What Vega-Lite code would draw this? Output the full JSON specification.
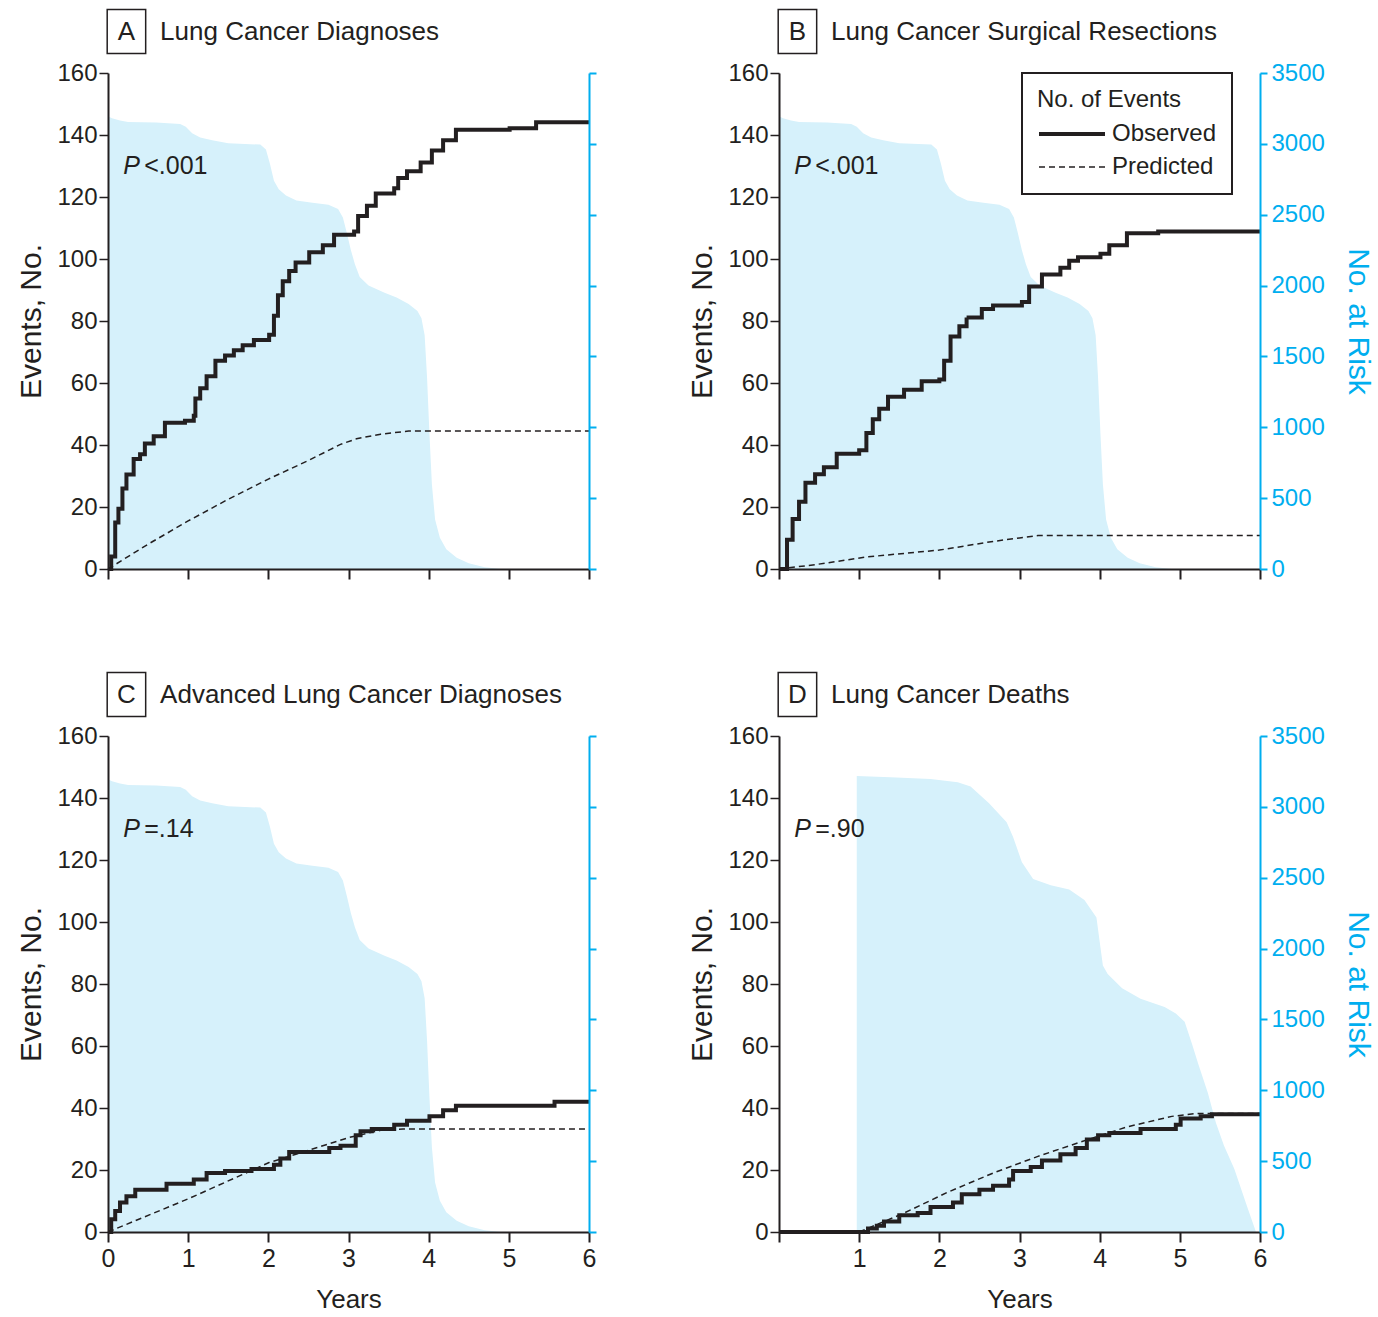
{
  "$schema": "https://vega.github.io/schema/vega-lite/v6.json",
  "padding": {"left": 16, "top": 8, "right": 5, "bottom": 5},
  "background": "white",
  "config": {
    "font": "Liberation Sans",
    "view": {"stroke": null},
    "axis": {"grid": false, "zindex": 1, "labelFlush": false, "labelFont": "Liberation Sans", "titleFont": "Liberation Sans", "titleFontWeight": "normal"},
    "text": {"font": "Liberation Sans", "color": "#231f20"}
  },
  "datasets": {
    "one": [{}],
    "risk": [
      {"p": "ABC", "year": 0, "atrisk": 3195}, {"p": "ABC", "year": 0.05, "atrisk": 3180}, {"p": "ABC", "year": 0.15, "atrisk": 3165},
      {"p": "ABC", "year": 0.25, "atrisk": 3155}, {"p": "ABC", "year": 0.6, "atrisk": 3150}, {"p": "ABC", "year": 0.9, "atrisk": 3140},
      {"p": "ABC", "year": 0.97, "atrisk": 3120}, {"p": "ABC", "year": 1.05, "atrisk": 3075}, {"p": "ABC", "year": 1.15, "atrisk": 3045},
      {"p": "ABC", "year": 1.3, "atrisk": 3025}, {"p": "ABC", "year": 1.5, "atrisk": 3005}, {"p": "ABC", "year": 1.9, "atrisk": 2995},
      {"p": "ABC", "year": 1.97, "atrisk": 2960}, {"p": "ABC", "year": 2.02, "atrisk": 2860}, {"p": "ABC", "year": 2.07, "atrisk": 2740},
      {"p": "ABC", "year": 2.13, "atrisk": 2680}, {"p": "ABC", "year": 2.22, "atrisk": 2635}, {"p": "ABC", "year": 2.35, "atrisk": 2600},
      {"p": "ABC", "year": 2.55, "atrisk": 2585}, {"p": "ABC", "year": 2.75, "atrisk": 2570}, {"p": "ABC", "year": 2.87, "atrisk": 2540},
      {"p": "ABC", "year": 2.93, "atrisk": 2480}, {"p": "ABC", "year": 2.98, "atrisk": 2370}, {"p": "ABC", "year": 3.03, "atrisk": 2250},
      {"p": "ABC", "year": 3.08, "atrisk": 2150}, {"p": "ABC", "year": 3.14, "atrisk": 2060}, {"p": "ABC", "year": 3.25, "atrisk": 2000},
      {"p": "ABC", "year": 3.45, "atrisk": 1950}, {"p": "ABC", "year": 3.6, "atrisk": 1915}, {"p": "ABC", "year": 3.75, "atrisk": 1870},
      {"p": "ABC", "year": 3.86, "atrisk": 1820}, {"p": "ABC", "year": 3.91, "atrisk": 1770}, {"p": "ABC", "year": 3.95, "atrisk": 1650},
      {"p": "ABC", "year": 3.98, "atrisk": 1350}, {"p": "ABC", "year": 4.01, "atrisk": 950}, {"p": "ABC", "year": 4.04, "atrisk": 600},
      {"p": "ABC", "year": 4.08, "atrisk": 350}, {"p": "ABC", "year": 4.14, "atrisk": 220}, {"p": "ABC", "year": 4.22, "atrisk": 140},
      {"p": "ABC", "year": 4.35, "atrisk": 80}, {"p": "ABC", "year": 4.5, "atrisk": 40}, {"p": "ABC", "year": 4.7, "atrisk": 12},
      {"p": "ABC", "year": 4.9, "atrisk": 0},
      {"p": "D", "year": 0.97, "atrisk": 3218}, {"p": "D", "year": 1.39, "atrisk": 3209}, {"p": "D", "year": 1.89, "atrisk": 3197},
      {"p": "D", "year": 2.23, "atrisk": 3174}, {"p": "D", "year": 2.39, "atrisk": 3144}, {"p": "D", "year": 2.62, "atrisk": 3025},
      {"p": "D", "year": 2.84, "atrisk": 2892}, {"p": "D", "year": 2.92, "atrisk": 2788}, {"p": "D", "year": 3.03, "atrisk": 2610},
      {"p": "D", "year": 3.17, "atrisk": 2491}, {"p": "D", "year": 3.39, "atrisk": 2447}, {"p": "D", "year": 3.62, "atrisk": 2417},
      {"p": "D", "year": 3.81, "atrisk": 2343}, {"p": "D", "year": 3.96, "atrisk": 2220}, {"p": "D", "year": 4.0, "atrisk": 2050},
      {"p": "D", "year": 4.04, "atrisk": 1880}, {"p": "D", "year": 4.1, "atrisk": 1820}, {"p": "D", "year": 4.28, "atrisk": 1720},
      {"p": "D", "year": 4.51, "atrisk": 1646}, {"p": "D", "year": 4.81, "atrisk": 1587}, {"p": "D", "year": 4.95, "atrisk": 1542},
      {"p": "D", "year": 5.06, "atrisk": 1483}, {"p": "D", "year": 5.15, "atrisk": 1330}, {"p": "D", "year": 5.23, "atrisk": 1186},
      {"p": "D", "year": 5.35, "atrisk": 980}, {"p": "D", "year": 5.45, "atrisk": 771}, {"p": "D", "year": 5.55, "atrisk": 610},
      {"p": "D", "year": 5.68, "atrisk": 445}, {"p": "D", "year": 5.84, "atrisk": 178}, {"p": "D", "year": 5.95, "atrisk": 0}
    ],
    "events": [
      {"p": "A", "s": "Observed", "year": 0, "n": 0}, {"p": "A", "s": "Observed", "year": 0.04, "n": 4}, {"p": "A", "s": "Observed", "year": 0.09, "n": 15},
      {"p": "A", "s": "Observed", "year": 0.13, "n": 19.4}, {"p": "A", "s": "Observed", "year": 0.18, "n": 26}, {"p": "A", "s": "Observed", "year": 0.23, "n": 30.5},
      {"p": "A", "s": "Observed", "year": 0.32, "n": 35.5}, {"p": "A", "s": "Observed", "year": 0.4, "n": 37}, {"p": "A", "s": "Observed", "year": 0.46, "n": 40.5},
      {"p": "A", "s": "Observed", "year": 0.57, "n": 42.8}, {"p": "A", "s": "Observed", "year": 0.71, "n": 47.2}, {"p": "A", "s": "Observed", "year": 0.96, "n": 47.8},
      {"p": "A", "s": "Observed", "year": 1.07, "n": 49.4}, {"p": "A", "s": "Observed", "year": 1.09, "n": 55}, {"p": "A", "s": "Observed", "year": 1.15, "n": 58.3},
      {"p": "A", "s": "Observed", "year": 1.23, "n": 62.2}, {"p": "A", "s": "Observed", "year": 1.34, "n": 67.2}, {"p": "A", "s": "Observed", "year": 1.46, "n": 68.9},
      {"p": "A", "s": "Observed", "year": 1.57, "n": 70.6}, {"p": "A", "s": "Observed", "year": 1.68, "n": 72.2}, {"p": "A", "s": "Observed", "year": 1.82, "n": 73.9},
      {"p": "A", "s": "Observed", "year": 2.01, "n": 75.6}, {"p": "A", "s": "Observed", "year": 2.07, "n": 81.7}, {"p": "A", "s": "Observed", "year": 2.12, "n": 88.3},
      {"p": "A", "s": "Observed", "year": 2.18, "n": 92.8}, {"p": "A", "s": "Observed", "year": 2.26, "n": 96.1}, {"p": "A", "s": "Observed", "year": 2.34, "n": 98.9},
      {"p": "A", "s": "Observed", "year": 2.51, "n": 102.2}, {"p": "A", "s": "Observed", "year": 2.68, "n": 104.4}, {"p": "A", "s": "Observed", "year": 2.82, "n": 107.8},
      {"p": "A", "s": "Observed", "year": 3.07, "n": 108.9}, {"p": "A", "s": "Observed", "year": 3.12, "n": 113.9}, {"p": "A", "s": "Observed", "year": 3.23, "n": 117.2},
      {"p": "A", "s": "Observed", "year": 3.34, "n": 121.1}, {"p": "A", "s": "Observed", "year": 3.57, "n": 122.8}, {"p": "A", "s": "Observed", "year": 3.62, "n": 126.1},
      {"p": "A", "s": "Observed", "year": 3.73, "n": 128.3}, {"p": "A", "s": "Observed", "year": 3.9, "n": 131.1}, {"p": "A", "s": "Observed", "year": 4.04, "n": 135},
      {"p": "A", "s": "Observed", "year": 4.18, "n": 138.3}, {"p": "A", "s": "Observed", "year": 4.34, "n": 141.7}, {"p": "A", "s": "Observed", "year": 5.01, "n": 142.2},
      {"p": "A", "s": "Observed", "year": 5.34, "n": 144.1}, {"p": "A", "s": "Observed", "year": 6, "n": 144.1},
      {"p": "A", "s": "Predicted", "year": 0, "n": 0}, {"p": "A", "s": "Predicted", "year": 0.5, "n": 8}, {"p": "A", "s": "Predicted", "year": 1, "n": 15.5},
      {"p": "A", "s": "Predicted", "year": 1.5, "n": 22.5}, {"p": "A", "s": "Predicted", "year": 2, "n": 29}, {"p": "A", "s": "Predicted", "year": 2.5, "n": 35},
      {"p": "A", "s": "Predicted", "year": 2.9, "n": 40.2}, {"p": "A", "s": "Predicted", "year": 3.1, "n": 42}, {"p": "A", "s": "Predicted", "year": 3.4, "n": 43.5},
      {"p": "A", "s": "Predicted", "year": 3.75, "n": 44.5}, {"p": "A", "s": "Predicted", "year": 6, "n": 44.5},
      {"p": "B", "s": "Observed", "year": 0, "n": 0}, {"p": "B", "s": "Observed", "year": 0.07, "n": 0}, {"p": "B", "s": "Observed", "year": 0.1, "n": 9.4},
      {"p": "B", "s": "Observed", "year": 0.17, "n": 16.1}, {"p": "B", "s": "Observed", "year": 0.25, "n": 21.7}, {"p": "B", "s": "Observed", "year": 0.33, "n": 27.8},
      {"p": "B", "s": "Observed", "year": 0.45, "n": 30.6}, {"p": "B", "s": "Observed", "year": 0.56, "n": 32.8}, {"p": "B", "s": "Observed", "year": 0.72, "n": 37.2},
      {"p": "B", "s": "Observed", "year": 1.0, "n": 38.3}, {"p": "B", "s": "Observed", "year": 1.09, "n": 43.9}, {"p": "B", "s": "Observed", "year": 1.17, "n": 48.3},
      {"p": "B", "s": "Observed", "year": 1.25, "n": 51.7}, {"p": "B", "s": "Observed", "year": 1.36, "n": 55.6}, {"p": "B", "s": "Observed", "year": 1.56, "n": 57.8},
      {"p": "B", "s": "Observed", "year": 1.78, "n": 60.6}, {"p": "B", "s": "Observed", "year": 2.0, "n": 61.1}, {"p": "B", "s": "Observed", "year": 2.06, "n": 67.2},
      {"p": "B", "s": "Observed", "year": 2.14, "n": 75}, {"p": "B", "s": "Observed", "year": 2.25, "n": 78.3}, {"p": "B", "s": "Observed", "year": 2.34, "n": 81.1},
      {"p": "B", "s": "Observed", "year": 2.53, "n": 83.9}, {"p": "B", "s": "Observed", "year": 2.67, "n": 85}, {"p": "B", "s": "Observed", "year": 3.03, "n": 86.1},
      {"p": "B", "s": "Observed", "year": 3.12, "n": 91.1}, {"p": "B", "s": "Observed", "year": 3.28, "n": 95}, {"p": "B", "s": "Observed", "year": 3.51, "n": 97.2},
      {"p": "B", "s": "Observed", "year": 3.62, "n": 99.4}, {"p": "B", "s": "Observed", "year": 3.73, "n": 100.6}, {"p": "B", "s": "Observed", "year": 4.01, "n": 101.7},
      {"p": "B", "s": "Observed", "year": 4.12, "n": 104.4}, {"p": "B", "s": "Observed", "year": 4.34, "n": 108.3}, {"p": "B", "s": "Observed", "year": 4.73, "n": 108.9},
      {"p": "B", "s": "Observed", "year": 6, "n": 108.9},
      {"p": "B", "s": "Predicted", "year": 0, "n": 0}, {"p": "B", "s": "Predicted", "year": 0.45, "n": 1.4}, {"p": "B", "s": "Predicted", "year": 1.1, "n": 3.9},
      {"p": "B", "s": "Predicted", "year": 2, "n": 6.1}, {"p": "B", "s": "Predicted", "year": 2.67, "n": 8.9}, {"p": "B", "s": "Predicted", "year": 3.0, "n": 10},
      {"p": "B", "s": "Predicted", "year": 3.23, "n": 10.8}, {"p": "B", "s": "Predicted", "year": 6, "n": 10.8},
      {"p": "C", "s": "Observed", "year": 0, "n": 0}, {"p": "C", "s": "Observed", "year": 0.04, "n": 4.1}, {"p": "C", "s": "Observed", "year": 0.09, "n": 6.8},
      {"p": "C", "s": "Observed", "year": 0.15, "n": 9.5}, {"p": "C", "s": "Observed", "year": 0.23, "n": 11.5}, {"p": "C", "s": "Observed", "year": 0.34, "n": 13.6},
      {"p": "C", "s": "Observed", "year": 0.73, "n": 15.6}, {"p": "C", "s": "Observed", "year": 1.07, "n": 16.9}, {"p": "C", "s": "Observed", "year": 1.23, "n": 19},
      {"p": "C", "s": "Observed", "year": 1.46, "n": 19.7}, {"p": "C", "s": "Observed", "year": 1.79, "n": 20.3}, {"p": "C", "s": "Observed", "year": 2.07, "n": 21.7},
      {"p": "C", "s": "Observed", "year": 2.15, "n": 23.7}, {"p": "C", "s": "Observed", "year": 2.26, "n": 25.8}, {"p": "C", "s": "Observed", "year": 2.76, "n": 27.1},
      {"p": "C", "s": "Observed", "year": 2.9, "n": 27.8}, {"p": "C", "s": "Observed", "year": 3.09, "n": 31.2}, {"p": "C", "s": "Observed", "year": 3.15, "n": 32.5},
      {"p": "C", "s": "Observed", "year": 3.29, "n": 33.2}, {"p": "C", "s": "Observed", "year": 3.57, "n": 34.6}, {"p": "C", "s": "Observed", "year": 3.73, "n": 35.9},
      {"p": "C", "s": "Observed", "year": 4.01, "n": 37.3}, {"p": "C", "s": "Observed", "year": 4.18, "n": 39.3}, {"p": "C", "s": "Observed", "year": 4.34, "n": 40.7},
      {"p": "C", "s": "Observed", "year": 5.57, "n": 42}, {"p": "C", "s": "Observed", "year": 6, "n": 42},
      {"p": "C", "s": "Predicted", "year": 0, "n": 0}, {"p": "C", "s": "Predicted", "year": 1.01, "n": 10.8}, {"p": "C", "s": "Predicted", "year": 2.01, "n": 22.4},
      {"p": "C", "s": "Predicted", "year": 3.01, "n": 30.5}, {"p": "C", "s": "Predicted", "year": 3.4, "n": 32.8}, {"p": "C", "s": "Predicted", "year": 3.68, "n": 33.2},
      {"p": "C", "s": "Predicted", "year": 6, "n": 33.2},
      {"p": "D", "s": "Observed", "year": 0, "n": 0}, {"p": "D", "s": "Observed", "year": 1.0, "n": 0}, {"p": "D", "s": "Observed", "year": 1.11, "n": 1.1},
      {"p": "D", "s": "Observed", "year": 1.22, "n": 2}, {"p": "D", "s": "Observed", "year": 1.31, "n": 3.4}, {"p": "D", "s": "Observed", "year": 1.5, "n": 5.4},
      {"p": "D", "s": "Observed", "year": 1.73, "n": 6.1}, {"p": "D", "s": "Observed", "year": 1.89, "n": 8.1}, {"p": "D", "s": "Observed", "year": 2.17, "n": 9.5},
      {"p": "D", "s": "Observed", "year": 2.28, "n": 12.2}, {"p": "D", "s": "Observed", "year": 2.5, "n": 13.6}, {"p": "D", "s": "Observed", "year": 2.67, "n": 14.9},
      {"p": "D", "s": "Observed", "year": 2.87, "n": 16.9}, {"p": "D", "s": "Observed", "year": 2.92, "n": 19.7}, {"p": "D", "s": "Observed", "year": 3.14, "n": 21},
      {"p": "D", "s": "Observed", "year": 3.28, "n": 23.1}, {"p": "D", "s": "Observed", "year": 3.51, "n": 25.1}, {"p": "D", "s": "Observed", "year": 3.7, "n": 27.1},
      {"p": "D", "s": "Observed", "year": 3.84, "n": 29.8}, {"p": "D", "s": "Observed", "year": 3.98, "n": 31.2}, {"p": "D", "s": "Observed", "year": 4.12, "n": 31.9},
      {"p": "D", "s": "Observed", "year": 4.51, "n": 33.2}, {"p": "D", "s": "Observed", "year": 4.95, "n": 34.6}, {"p": "D", "s": "Observed", "year": 5.01, "n": 36.6},
      {"p": "D", "s": "Observed", "year": 5.26, "n": 37.3}, {"p": "D", "s": "Observed", "year": 5.4, "n": 38}, {"p": "D", "s": "Observed", "year": 6, "n": 38},
      {"p": "D", "s": "Predicted", "year": 1, "n": 0}, {"p": "D", "s": "Predicted", "year": 1.56, "n": 6.1}, {"p": "D", "s": "Predicted", "year": 2.11, "n": 12.9},
      {"p": "D", "s": "Predicted", "year": 2.67, "n": 19}, {"p": "D", "s": "Predicted", "year": 3.23, "n": 24.4}, {"p": "D", "s": "Predicted", "year": 3.78, "n": 29.2},
      {"p": "D", "s": "Predicted", "year": 4.34, "n": 33.9}, {"p": "D", "s": "Predicted", "year": 4.9, "n": 37.3}, {"p": "D", "s": "Predicted", "year": 5.18, "n": 38.2},
      {"p": "D", "s": "Predicted", "year": 6, "n": 38.2}
    ]
  },
  "columns": 2,
  "spacing": {"row": 167, "column": 190},
  "bounds": "flush",
  "resolve": {"legend": {"strokeDash": "independent", "strokeWidth": "independent"}},
  "concat": [
    {
      "width": 481, "height": 496,
      "resolve": {"scale": {"y": "independent"}, "axis": {"y": "independent"}},
      "layer": [
        {
          "data": {"name": "risk"}, "transform": [{"filter": "datum.p === 'ABC'"}],
          "mark": {"type": "area", "color": "#d6f1fb", "interpolate": "linear"},
          "encoding": {
            "x": {"field": "year", "type": "quantitative", "scale": {"domain": [0, 6], "nice": false},
                  "axis": {"zindex": 1, "values": [0, 1, 2, 3, 4, 5, 6], "format": "d", "labels": false, "title": null, "domainColor": "#231f20", "domainWidth": 2, "tickColor": "#231f20", "tickWidth": 2, "tickSize": 10}},
            "y": {"field": "atrisk", "type": "quantitative", "scale": {"domain": [0, 3500], "nice": false},
                  "axis": {"zindex": 1, "orient": "right", "values": [0, 500, 1000, 1500, 2000, 2500, 3000, 3500], "labels": false, "title": null, "domainColor": "#00aeef", "domainWidth": 2, "tickColor": "#00aeef", "tickWidth": 2, "tickSize": 7}}
          }
        },
        {
          "data": {"name": "events"}, "transform": [{"filter": "datum.p === 'A' && datum.s === 'Observed'"}],
          "mark": {"type": "line", "interpolate": "step-after", "color": "#231f20"},
          "encoding": {
            "x": {"field": "year", "type": "quantitative", "scale": {"domain": [0, 6], "nice": false}},
            "y": {"field": "n", "type": "quantitative", "scale": {"domain": [0, 160], "nice": false},
                  "axis": {"zindex": 1, "orient": "left", "values": [0, 20, 40, 60, 80, 100, 120, 140, 160], "title": "Events, No.", "titleFontSize": 30, "titlePadding": 10, "labelFontSize": 24, "labelColor": "#231f20", "titleColor": "#231f20", "labelPadding": 2, "tickSize": 9, "domainColor": "#231f20", "domainWidth": 2, "tickColor": "#231f20", "tickWidth": 1.5}},
            "strokeDash": {"field": "s", "type": "ordinal", "scale": {"domain": ["Observed", "Predicted"], "range": [[1, 0], [6, 4]]}, "legend": null},
            "strokeWidth": {"field": "s", "type": "ordinal", "scale": {"domain": ["Observed", "Predicted"], "range": [4, 1.5]}, "legend": null}
          }
        },
        {
          "data": {"name": "events"}, "transform": [{"filter": "datum.p === 'A' && datum.s === 'Predicted'"}],
          "mark": {"type": "line", "interpolate": "linear", "color": "#231f20"},
          "encoding": {
            "x": {"field": "year", "type": "quantitative", "scale": {"domain": [0, 6], "nice": false}},
            "y": {"field": "n", "type": "quantitative", "scale": {"domain": [0, 160], "nice": false}, "axis": null},
            "strokeDash": {"field": "s", "type": "ordinal", "scale": {"domain": ["Observed", "Predicted"], "range": [[1, 0], [6, 4]]}, "legend": null},
            "strokeWidth": {"field": "s", "type": "ordinal", "scale": {"domain": ["Observed", "Predicted"], "range": [4, 1.5]}, "legend": null}
          }
        },
        {
          "data": {"name": "one"},
          "mark": {"type": "text", "text": "P", "fontStyle": "italic", "fontSize": 25, "align": "left", "baseline": "middle"},
          "encoding": {"x": {"datum": 0.19, "type": "quantitative", "scale": {"domain": [0, 6], "nice": false}}, "y": {"datum": 130, "type": "quantitative", "scale": {"domain": [0, 160], "nice": false}, "axis": null}}
        },
        {
          "data": {"name": "one"},
          "mark": {"type": "text", "text": "<.001", "fontSize": 25, "align": "left", "baseline": "middle", "dx": 21},
          "encoding": {"x": {"datum": 0.19, "type": "quantitative", "scale": {"domain": [0, 6], "nice": false}}, "y": {"datum": 130, "type": "quantitative", "scale": {"domain": [0, 160], "nice": false}, "axis": null}}
        },
        {
          "data": {"name": "one"},
          "mark": {"type": "rect", "fill": "transparent", "stroke": "#231f20", "strokeWidth": 1.5},
          "encoding": {"x": {"datum": -0.01, "type": "quantitative", "scale": {"domain": [0, 6], "nice": false}}, "x2": {"datum": 0.47},
                       "y": {"datum": 166.3, "type": "quantitative", "scale": {"domain": [0, 160], "nice": false}, "axis": null}, "y2": {"datum": 180.5}}
        },
        {
          "data": {"name": "one"},
          "mark": {"type": "text", "text": "A", "fontSize": 26, "align": "center", "baseline": "middle"},
          "encoding": {"x": {"datum": 0.23, "type": "quantitative", "scale": {"domain": [0, 6], "nice": false}}, "y": {"datum": 173.2, "type": "quantitative", "scale": {"domain": [0, 160], "nice": false}, "axis": null}}
        },
        {
          "data": {"name": "one"},
          "mark": {"type": "text", "text": "Lung Cancer Diagnoses", "fontSize": 26, "align": "left", "baseline": "middle"},
          "encoding": {"x": {"datum": 0.65, "type": "quantitative", "scale": {"domain": [0, 6], "nice": false}}, "y": {"datum": 173.2, "type": "quantitative", "scale": {"domain": [0, 160], "nice": false}, "axis": null}}
        }
      ]
    },
    {
      "width": 481, "height": 496,
      "resolve": {"scale": {"y": "independent"}, "axis": {"y": "independent"}},
      "layer": [
        {
          "data": {"name": "risk"}, "transform": [{"filter": "datum.p === 'ABC'"}],
          "mark": {"type": "area", "color": "#d6f1fb", "interpolate": "linear"},
          "encoding": {
            "x": {"field": "year", "type": "quantitative", "scale": {"domain": [0, 6], "nice": false},
                  "axis": {"zindex": 1, "values": [0, 1, 2, 3, 4, 5, 6], "format": "d", "labels": false, "title": null, "domainColor": "#231f20", "domainWidth": 2, "tickColor": "#231f20", "tickWidth": 2, "tickSize": 10}},
            "y": {"field": "atrisk", "type": "quantitative", "scale": {"domain": [0, 3500], "nice": false},
                  "axis": {"zindex": 1, "orient": "right", "values": [0, 500, 1000, 1500, 2000, 2500, 3000, 3500], "format": "d", "title": "No. at Risk", "titleFontSize": 30, "titlePadding": 18, "titleColor": "#00aeef", "labelColor": "#00aeef", "labelFontSize": 24, "labelPadding": 4, "domainColor": "#00aeef", "domainWidth": 2, "tickColor": "#00aeef", "tickWidth": 2, "tickSize": 7}}
          }
        },
        {
          "data": {"name": "events"}, "transform": [{"filter": "datum.p === 'B' && datum.s === 'Observed'"}],
          "mark": {"type": "line", "interpolate": "step-after", "color": "#231f20"},
          "encoding": {
            "x": {"field": "year", "type": "quantitative", "scale": {"domain": [0, 6], "nice": false}},
            "y": {"field": "n", "type": "quantitative", "scale": {"domain": [0, 160], "nice": false},
                  "axis": {"zindex": 1, "orient": "left", "values": [0, 20, 40, 60, 80, 100, 120, 140, 160], "title": "Events, No.", "titleFontSize": 30, "titlePadding": 10, "labelFontSize": 24, "labelColor": "#231f20", "titleColor": "#231f20", "labelPadding": 2, "tickSize": 9, "domainColor": "#231f20", "domainWidth": 2, "tickColor": "#231f20", "tickWidth": 1.5}},
            "strokeDash": {"field": "s", "type": "ordinal", "scale": {"domain": ["Observed", "Predicted"], "range": [[1, 0], [6, 4]]},
                           "legend": {"title": "No. of Events", "orient": "none", "legendX": 243, "legendY": 0, "strokeColor": "#231f20", "padding": 15, "titleFontSize": 24, "titleFontWeight": "normal", "titleColor": "#231f20", "titlePadding": 9, "labelFontSize": 24, "labelColor": "#231f20", "labelOffset": 49, "symbolType": "M-1,0L5,0", "symbolSize": 484, "symbolStrokeColor": "#231f20", "rowPadding": 9,
                                      "encode": {"legend": {"update": {"strokeWidth": {"value": 2}}}}}},
            "strokeWidth": {"field": "s", "type": "ordinal", "scale": {"domain": ["Observed", "Predicted"], "range": [4, 1.5]},
                           "legend": {"title": "No. of Events", "orient": "none", "legendX": 243, "legendY": 0, "strokeColor": "#231f20", "padding": 15, "titleFontSize": 24, "titleFontWeight": "normal", "titleColor": "#231f20", "titlePadding": 9, "labelFontSize": 24, "labelColor": "#231f20", "labelOffset": 49, "symbolType": "M-1,0L5,0", "symbolSize": 484, "symbolStrokeColor": "#231f20", "rowPadding": 9}}
          }
        },
        {
          "data": {"name": "events"}, "transform": [{"filter": "datum.p === 'B' && datum.s === 'Predicted'"}],
          "mark": {"type": "line", "interpolate": "linear", "color": "#231f20"},
          "encoding": {
            "x": {"field": "year", "type": "quantitative", "scale": {"domain": [0, 6], "nice": false}},
            "y": {"field": "n", "type": "quantitative", "scale": {"domain": [0, 160], "nice": false}, "axis": null},
            "strokeDash": {"field": "s", "type": "ordinal", "scale": {"domain": ["Observed", "Predicted"], "range": [[1, 0], [6, 4]]}},
            "strokeWidth": {"field": "s", "type": "ordinal", "scale": {"domain": ["Observed", "Predicted"], "range": [4, 1.5]}}
          }
        },
        {
          "data": {"name": "one"},
          "mark": {"type": "text", "text": "P", "fontStyle": "italic", "fontSize": 25, "align": "left", "baseline": "middle"},
          "encoding": {"x": {"datum": 0.19, "type": "quantitative", "scale": {"domain": [0, 6], "nice": false}}, "y": {"datum": 130, "type": "quantitative", "scale": {"domain": [0, 160], "nice": false}, "axis": null}}
        },
        {
          "data": {"name": "one"},
          "mark": {"type": "text", "text": "<.001", "fontSize": 25, "align": "left", "baseline": "middle", "dx": 21},
          "encoding": {"x": {"datum": 0.19, "type": "quantitative", "scale": {"domain": [0, 6], "nice": false}}, "y": {"datum": 130, "type": "quantitative", "scale": {"domain": [0, 160], "nice": false}, "axis": null}}
        },
        {
          "data": {"name": "one"},
          "mark": {"type": "rect", "fill": "transparent", "stroke": "#231f20", "strokeWidth": 1.5},
          "encoding": {"x": {"datum": -0.01, "type": "quantitative", "scale": {"domain": [0, 6], "nice": false}}, "x2": {"datum": 0.47},
                       "y": {"datum": 166.3, "type": "quantitative", "scale": {"domain": [0, 160], "nice": false}, "axis": null}, "y2": {"datum": 180.5}}
        },
        {
          "data": {"name": "one"},
          "mark": {"type": "text", "text": "B", "fontSize": 26, "align": "center", "baseline": "middle"},
          "encoding": {"x": {"datum": 0.23, "type": "quantitative", "scale": {"domain": [0, 6], "nice": false}}, "y": {"datum": 173.2, "type": "quantitative", "scale": {"domain": [0, 160], "nice": false}, "axis": null}}
        },
        {
          "data": {"name": "one"},
          "mark": {"type": "text", "text": "Lung Cancer Surgical Resections", "fontSize": 26, "align": "left", "baseline": "middle"},
          "encoding": {"x": {"datum": 0.65, "type": "quantitative", "scale": {"domain": [0, 6], "nice": false}}, "y": {"datum": 173.2, "type": "quantitative", "scale": {"domain": [0, 160], "nice": false}, "axis": null}}
        }
      ]
    },
    {
      "width": 481, "height": 496,
      "resolve": {"scale": {"y": "independent"}, "axis": {"y": "independent"}},
      "layer": [
        {
          "data": {"name": "risk"}, "transform": [{"filter": "datum.p === 'ABC'"}],
          "mark": {"type": "area", "color": "#d6f1fb", "interpolate": "linear"},
          "encoding": {
            "x": {"field": "year", "type": "quantitative", "scale": {"domain": [0, 6], "nice": false},
                  "axis": {"zindex": 1, "values": [0, 1, 2, 3, 4, 5, 6], "format": "d", "title": "Years", "titleFontSize": 26, "titleColor": "#231f20", "titlePadding": 15, "labelFontSize": 25, "labelColor": "#231f20", "labelPadding": 4, "domainColor": "#231f20", "domainWidth": 2, "tickColor": "#231f20", "tickWidth": 2, "tickSize": 10}},
            "y": {"field": "atrisk", "type": "quantitative", "scale": {"domain": [0, 3500], "nice": false},
                  "axis": {"zindex": 1, "orient": "right", "values": [0, 500, 1000, 1500, 2000, 2500, 3000, 3500], "labels": false, "title": null, "domainColor": "#00aeef", "domainWidth": 2, "tickColor": "#00aeef", "tickWidth": 2, "tickSize": 7}}
          }
        },
        {
          "data": {"name": "events"}, "transform": [{"filter": "datum.p === 'C' && datum.s === 'Observed'"}],
          "mark": {"type": "line", "interpolate": "step-after", "color": "#231f20"},
          "encoding": {
            "x": {"field": "year", "type": "quantitative", "scale": {"domain": [0, 6], "nice": false}},
            "y": {"field": "n", "type": "quantitative", "scale": {"domain": [0, 160], "nice": false},
                  "axis": {"zindex": 1, "orient": "left", "values": [0, 20, 40, 60, 80, 100, 120, 140, 160], "title": "Events, No.", "titleFontSize": 30, "titlePadding": 10, "labelFontSize": 24, "labelColor": "#231f20", "titleColor": "#231f20", "labelPadding": 2, "tickSize": 9, "domainColor": "#231f20", "domainWidth": 2, "tickColor": "#231f20", "tickWidth": 1.5}},
            "strokeDash": {"field": "s", "type": "ordinal", "scale": {"domain": ["Observed", "Predicted"], "range": [[1, 0], [6, 4]]}, "legend": null},
            "strokeWidth": {"field": "s", "type": "ordinal", "scale": {"domain": ["Observed", "Predicted"], "range": [4, 1.5]}, "legend": null}
          }
        },
        {
          "data": {"name": "events"}, "transform": [{"filter": "datum.p === 'C' && datum.s === 'Predicted'"}],
          "mark": {"type": "line", "interpolate": "linear", "color": "#231f20"},
          "encoding": {
            "x": {"field": "year", "type": "quantitative", "scale": {"domain": [0, 6], "nice": false}},
            "y": {"field": "n", "type": "quantitative", "scale": {"domain": [0, 160], "nice": false}, "axis": null},
            "strokeDash": {"field": "s", "type": "ordinal", "scale": {"domain": ["Observed", "Predicted"], "range": [[1, 0], [6, 4]]}, "legend": null},
            "strokeWidth": {"field": "s", "type": "ordinal", "scale": {"domain": ["Observed", "Predicted"], "range": [4, 1.5]}, "legend": null}
          }
        },
        {
          "data": {"name": "one"},
          "mark": {"type": "text", "text": "P", "fontStyle": "italic", "fontSize": 25, "align": "left", "baseline": "middle"},
          "encoding": {"x": {"datum": 0.19, "type": "quantitative", "scale": {"domain": [0, 6], "nice": false}}, "y": {"datum": 130, "type": "quantitative", "scale": {"domain": [0, 160], "nice": false}, "axis": null}}
        },
        {
          "data": {"name": "one"},
          "mark": {"type": "text", "text": "=.14", "fontSize": 25, "align": "left", "baseline": "middle", "dx": 21},
          "encoding": {"x": {"datum": 0.19, "type": "quantitative", "scale": {"domain": [0, 6], "nice": false}}, "y": {"datum": 130, "type": "quantitative", "scale": {"domain": [0, 160], "nice": false}, "axis": null}}
        },
        {
          "data": {"name": "one"},
          "mark": {"type": "rect", "fill": "transparent", "stroke": "#231f20", "strokeWidth": 1.5},
          "encoding": {"x": {"datum": -0.01, "type": "quantitative", "scale": {"domain": [0, 6], "nice": false}}, "x2": {"datum": 0.47},
                       "y": {"datum": 166.3, "type": "quantitative", "scale": {"domain": [0, 160], "nice": false}, "axis": null}, "y2": {"datum": 180.5}}
        },
        {
          "data": {"name": "one"},
          "mark": {"type": "text", "text": "C", "fontSize": 26, "align": "center", "baseline": "middle"},
          "encoding": {"x": {"datum": 0.23, "type": "quantitative", "scale": {"domain": [0, 6], "nice": false}}, "y": {"datum": 173.2, "type": "quantitative", "scale": {"domain": [0, 160], "nice": false}, "axis": null}}
        },
        {
          "data": {"name": "one"},
          "mark": {"type": "text", "text": "Advanced Lung Cancer Diagnoses", "fontSize": 26, "align": "left", "baseline": "middle"},
          "encoding": {"x": {"datum": 0.65, "type": "quantitative", "scale": {"domain": [0, 6], "nice": false}}, "y": {"datum": 173.2, "type": "quantitative", "scale": {"domain": [0, 160], "nice": false}, "axis": null}}
        }
      ]
    },
    {
      "width": 481, "height": 496,
      "resolve": {"scale": {"y": "independent"}, "axis": {"y": "independent"}},
      "layer": [
        {
          "data": {"name": "risk"}, "transform": [{"filter": "datum.p === 'D'"}],
          "mark": {"type": "area", "color": "#d6f1fb", "interpolate": "linear"},
          "encoding": {
            "x": {"field": "year", "type": "quantitative", "scale": {"domain": [0, 6], "nice": false},
                  "axis": {"zindex": 1, "values": [0, 1, 2, 3, 4, 5, 6], "format": "d", "labelExpr": "datum.value === 0 ? '' : datum.label", "title": "Years", "titleFontSize": 26, "titleColor": "#231f20", "titlePadding": 15, "labelFontSize": 25, "labelColor": "#231f20", "labelPadding": 4, "domainColor": "#231f20", "domainWidth": 2, "tickColor": "#231f20", "tickWidth": 2, "tickSize": 10}},
            "y": {"field": "atrisk", "type": "quantitative", "scale": {"domain": [0, 3500], "nice": false},
                  "axis": {"zindex": 1, "orient": "right", "values": [0, 500, 1000, 1500, 2000, 2500, 3000, 3500], "format": "d", "title": "No. at Risk", "titleFontSize": 30, "titlePadding": 18, "titleColor": "#00aeef", "labelColor": "#00aeef", "labelFontSize": 24, "labelPadding": 4, "domainColor": "#00aeef", "domainWidth": 2, "tickColor": "#00aeef", "tickWidth": 2, "tickSize": 7}}
          }
        },
        {
          "data": {"name": "events"}, "transform": [{"filter": "datum.p === 'D' && datum.s === 'Observed'"}],
          "mark": {"type": "line", "interpolate": "step-after", "color": "#231f20"},
          "encoding": {
            "x": {"field": "year", "type": "quantitative", "scale": {"domain": [0, 6], "nice": false}},
            "y": {"field": "n", "type": "quantitative", "scale": {"domain": [0, 160], "nice": false},
                  "axis": {"zindex": 1, "orient": "left", "values": [0, 20, 40, 60, 80, 100, 120, 140, 160], "title": "Events, No.", "titleFontSize": 30, "titlePadding": 10, "labelFontSize": 24, "labelColor": "#231f20", "titleColor": "#231f20", "labelPadding": 2, "tickSize": 9, "domainColor": "#231f20", "domainWidth": 2, "tickColor": "#231f20", "tickWidth": 1.5}},
            "strokeDash": {"field": "s", "type": "ordinal", "scale": {"domain": ["Observed", "Predicted"], "range": [[1, 0], [6, 4]]}, "legend": null},
            "strokeWidth": {"field": "s", "type": "ordinal", "scale": {"domain": ["Observed", "Predicted"], "range": [4, 1.5]}, "legend": null}
          }
        },
        {
          "data": {"name": "events"}, "transform": [{"filter": "datum.p === 'D' && datum.s === 'Predicted'"}],
          "mark": {"type": "line", "interpolate": "linear", "color": "#231f20"},
          "encoding": {
            "x": {"field": "year", "type": "quantitative", "scale": {"domain": [0, 6], "nice": false}},
            "y": {"field": "n", "type": "quantitative", "scale": {"domain": [0, 160], "nice": false}, "axis": null},
            "strokeDash": {"field": "s", "type": "ordinal", "scale": {"domain": ["Observed", "Predicted"], "range": [[1, 0], [6, 4]]}, "legend": null},
            "strokeWidth": {"field": "s", "type": "ordinal", "scale": {"domain": ["Observed", "Predicted"], "range": [4, 1.5]}, "legend": null}
          }
        },
        {
          "data": {"name": "one"},
          "mark": {"type": "text", "text": "P", "fontStyle": "italic", "fontSize": 25, "align": "left", "baseline": "middle"},
          "encoding": {"x": {"datum": 0.19, "type": "quantitative", "scale": {"domain": [0, 6], "nice": false}}, "y": {"datum": 130, "type": "quantitative", "scale": {"domain": [0, 160], "nice": false}, "axis": null}}
        },
        {
          "data": {"name": "one"},
          "mark": {"type": "text", "text": "=.90", "fontSize": 25, "align": "left", "baseline": "middle", "dx": 21},
          "encoding": {"x": {"datum": 0.19, "type": "quantitative", "scale": {"domain": [0, 6], "nice": false}}, "y": {"datum": 130, "type": "quantitative", "scale": {"domain": [0, 160], "nice": false}, "axis": null}}
        },
        {
          "data": {"name": "one"},
          "mark": {"type": "rect", "fill": "transparent", "stroke": "#231f20", "strokeWidth": 1.5},
          "encoding": {"x": {"datum": -0.01, "type": "quantitative", "scale": {"domain": [0, 6], "nice": false}}, "x2": {"datum": 0.47},
                       "y": {"datum": 166.3, "type": "quantitative", "scale": {"domain": [0, 160], "nice": false}, "axis": null}, "y2": {"datum": 180.5}}
        },
        {
          "data": {"name": "one"},
          "mark": {"type": "text", "text": "D", "fontSize": 26, "align": "center", "baseline": "middle"},
          "encoding": {"x": {"datum": 0.23, "type": "quantitative", "scale": {"domain": [0, 6], "nice": false}}, "y": {"datum": 173.2, "type": "quantitative", "scale": {"domain": [0, 160], "nice": false}, "axis": null}}
        },
        {
          "data": {"name": "one"},
          "mark": {"type": "text", "text": "Lung Cancer Deaths", "fontSize": 26, "align": "left", "baseline": "middle"},
          "encoding": {"x": {"datum": 0.65, "type": "quantitative", "scale": {"domain": [0, 6], "nice": false}}, "y": {"datum": 173.2, "type": "quantitative", "scale": {"domain": [0, 160], "nice": false}, "axis": null}}
        }
      ]
    }
  ]
}
